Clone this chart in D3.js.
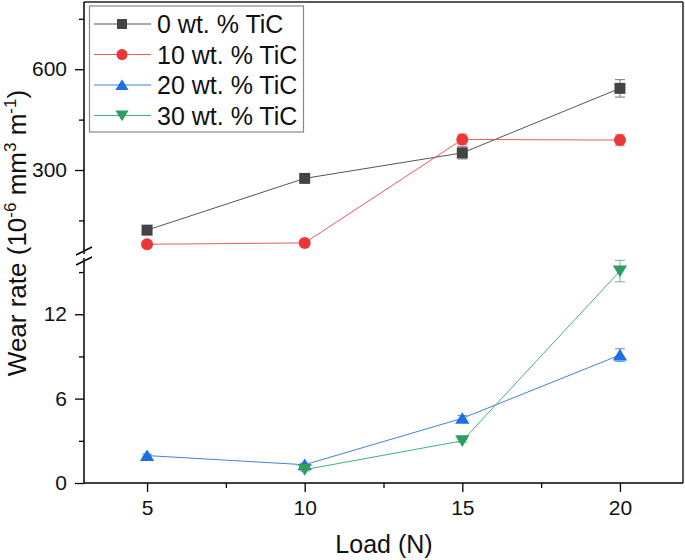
<!DOCTYPE html>
<html>
<head>
<meta charset="utf-8">
<script src="https://cdn.jsdelivr.net/npm/d3@7"></script>
<style>
  html, body { margin: 0; padding: 0; background: #fff; }
  svg { display: block; font-family: "Liberation Sans", Arial, sans-serif; }
</style>
</head>
<body>
<svg id="chart" width="685" height="560"></svg>
<script>
// ---------------- data ----------------
const loads = [5, 10, 15, 20];
const seriesNames = ["0 wt. % TiC", "10 wt. % TiC", "20 wt. % TiC", "30 wt. % TiC"];
const wear0  = [121, 275, 351, 543];
const err0   = [5, 5, 18, 26];
const wear10 = [79, 83, 391, 389];
const err10  = [5, 5, 16, 16];
const wear20 = [1.95, 1.3, 4.6, 9.1];
const err20  = [0.1, 0.1, 0.2, 0.45];
const wear30 = [null, 0.95, 3.0, 15.07];
const err30  = [null, 0.1, 0.1, 0.76];
const xTicks = [5, 10, 15, 20];
const xMinorTicks = [7.5, 12.5, 17.5];
const upperTicks = [300, 600];
const upperMinorTicks = [150, 450, 750];
const lowerTicks = [0, 6, 12];
const lowerMinorTicks = [3, 9, 15];

// ---------------- layout ----------------
const svg = d3.select("#chart");
const pLeft = 84, pRight = 683, pTop = 2, pBottom = 483;
const upperBottom = 254, lowerTop = 258;

const x = d3.scaleLinear().domain([3, 22]).range([pLeft, pRight]);
const yUp = d3.scaleLinear().domain([50, 800]).range([upperBottom, pTop]);
const yLo = d3.scaleLinear().domain([0, 16]).range([pBottom, lowerTop]);
const yOf = v => (v >= 50 ? yUp(v) : yLo(v));

const series = [
  { name: seriesNames[0], vals: wear0,  errs: err0,  marker: "square",  color: "#444444", line: "#555555", errColor: "#8a8a8a" },
  { name: seriesNames[1], vals: wear10, errs: err10, marker: "circle",  color: "#ee3636", line: "#ee5a5a", errColor: "#f08a8a" },
  { name: seriesNames[2], vals: wear20, errs: err20, marker: "tri-up",  color: "#1e6fe0", line: "#3f82dc", errColor: "#6f9fe6" },
  { name: seriesNames[3], vals: wear30, errs: err30, marker: "tri-down",color: "#2e9e60", line: "#45b077", errColor: "#7cc49c" }
];

function markerPath(type, s) {
  const h = s / 2;
  if (type === "square") return `M${-h},${-h}H${h}V${h}H${-h}Z`;
  if (type === "circle") return `M${h},0A${h},${h} 0 1,1 ${-h},0A${h},${h} 0 1,1 ${h},0Z`;
  if (type === "tri-up") return `M0,${-h * 0.95}L${h * 1.1},${h * 0.85}L${-h * 1.1},${h * 0.85}Z`;
  return `M0,${h * 0.95}L${h * 1.1},${-h * 0.85}L${-h * 1.1},${-h * 0.85}Z`;
}
const markerSize = { "square": 11, "circle": 12, "tri-up": 13, "tri-down": 13 };

// ---------------- frame & axes ----------------
const axisColor = "#000";
svg.append("line").attr("x1", pLeft).attr("x2", pRight).attr("y1", pTop).attr("y2", pTop)
  .attr("stroke", "#222").attr("stroke-width", 1.5);
svg.append("line").attr("x1", pRight).attr("x2", pRight).attr("y1", pTop).attr("y2", pBottom)
  .attr("stroke", "#222").attr("stroke-width", 1.5);

function styleAxis(g) {
  g.select(".domain").remove();
  g.selectAll("line").attr("stroke", axisColor).attr("stroke-width", 1.3);
  g.selectAll("text").attr("fill", "#111").style("font-size", "21px")
    .style("font-family", '"Liberation Sans", Arial, sans-serif');
}

const gx = svg.append("g").attr("transform", `translate(0,${pBottom})`);
gx.call(d3.axisBottom(x).tickValues(xTicks).tickFormat(d3.format("d")).tickSize(9).tickPadding(8));
styleAxis(gx);
const gxm = svg.append("g").attr("transform", `translate(0,${pBottom})`);
gxm.call(d3.axisBottom(x).tickValues(xMinorTicks).tickFormat("").tickSize(5));
styleAxis(gxm);
svg.append("line").attr("x1", pLeft).attr("x2", pRight).attr("y1", pBottom).attr("y2", pBottom)
  .attr("stroke", axisColor).attr("stroke-width", 1.5);

function yAxis(scale, major, minor, fmt) {
  const g = svg.append("g").attr("transform", `translate(${pLeft},0)`);
  g.call(d3.axisLeft(scale).tickValues(major).tickFormat(fmt).tickSize(9).tickPadding(8));
  styleAxis(g);
  const gm = svg.append("g").attr("transform", `translate(${pLeft},0)`);
  gm.call(d3.axisLeft(scale).tickValues(minor).tickFormat("").tickSize(5));
  styleAxis(gm);
}
yAxis(yUp, upperTicks, upperMinorTicks, d3.format("d"));
yAxis(yLo, lowerTicks, lowerMinorTicks, d3.format("d"));
svg.append("line").attr("x1", pLeft).attr("x2", pLeft).attr("y1", pTop).attr("y2", upperBottom)
  .attr("stroke", axisColor).attr("stroke-width", 1.5);
svg.append("line").attr("x1", pLeft).attr("x2", pLeft).attr("y1", lowerTop).attr("y2", pBottom)
  .attr("stroke", axisColor).attr("stroke-width", 1.5);

[upperBottom - 3, lowerTop + 3].forEach(yc => {
  svg.append("line")
    .attr("x1", pLeft - 8).attr("y1", yc + 4)
    .attr("x2", pLeft + 8).attr("y2", yc - 4)
    .attr("stroke", axisColor).attr("stroke-width", 1.5);
});

// ---------------- data marks ----------------
const plot = svg.append("g");
series.forEach(s => {
  const pts = loads.map((l, i) => ({ x: l, y: s.vals[i], e: s.errs[i] })).filter(p => p.y != null);
  const line = d3.line().x(d => x(d.x)).y(d => yOf(d.y));
  plot.append("path").datum(pts).attr("d", line)
    .attr("fill", "none").attr("stroke", s.line).attr("stroke-width", 1);
});
series.forEach(s => {
  const pts = loads.map((l, i) => ({ x: l, y: s.vals[i], e: s.errs[i] })).filter(p => p.y != null);
  const g = plot.append("g");
  pts.forEach(p => {
    const cx = x(p.x), y1 = yOf(p.y + p.e), y2 = yOf(p.y - p.e);
    g.append("line").attr("x1", cx).attr("x2", cx).attr("y1", y1).attr("y2", y2)
      .attr("stroke", s.errColor).attr("stroke-width", 1.2);
    [y1, y2].forEach(yy => g.append("line").attr("x1", cx - 5).attr("x2", cx + 5)
      .attr("y1", yy).attr("y2", yy).attr("stroke", s.errColor).attr("stroke-width", 1.2));
  });
  g.selectAll("path.m").data(pts).enter().append("path")
    .attr("transform", d => `translate(${x(d.x)},${yOf(d.y)})`)
    .attr("d", markerPath(s.marker, markerSize[s.marker]))
    .attr("fill", s.color);
});

// ---------------- legend ----------------
const lg = svg.append("g");
lg.append("rect").attr("x", 89.5).attr("y", 6).attr("width", 214).attr("height", 126)
  .attr("fill", "#fff").attr("stroke", "#888").attr("stroke-width", 1.2);
series.forEach((s, i) => {
  const yy = 24 + i * 30.5;
  lg.append("line").attr("x1", 94).attr("x2", 151).attr("y1", yy).attr("y2", yy)
    .attr("stroke", s.line).attr("stroke-width", 1.2);
  lg.append("path").attr("transform", `translate(122,${yy})`)
    .attr("d", markerPath(s.marker, markerSize[s.marker] - 1)).attr("fill", s.color);
  lg.append("text").attr("x", 157).attr("y", yy).attr("dy", "0.36em")
    .style("font-size", "25px").attr("fill", "#111").text(s.name);
});

// ---------------- titles ----------------
svg.append("text").attr("x", 384).attr("y", 553)
  .attr("text-anchor", "middle").style("font-size", "25px").attr("fill", "#111")
  .text("Load (N)");

const yt = svg.append("text").attr("transform", "translate(26,233) rotate(-90)")
  .attr("text-anchor", "middle").style("font-size", "26px").attr("fill", "#111");
yt.append("tspan").text("Wear rate (10");
yt.append("tspan").attr("dy", -10).style("font-size", "17px").text("-6");
yt.append("tspan").attr("dy", 10).text(" mm");
yt.append("tspan").attr("dy", -10).style("font-size", "17px").text("3");
yt.append("tspan").attr("dy", 10).text(" m");
yt.append("tspan").attr("dy", -10).style("font-size", "17px").text("-1");
yt.append("tspan").attr("dy", 10).text(")");
</script>
</body>
</html>
